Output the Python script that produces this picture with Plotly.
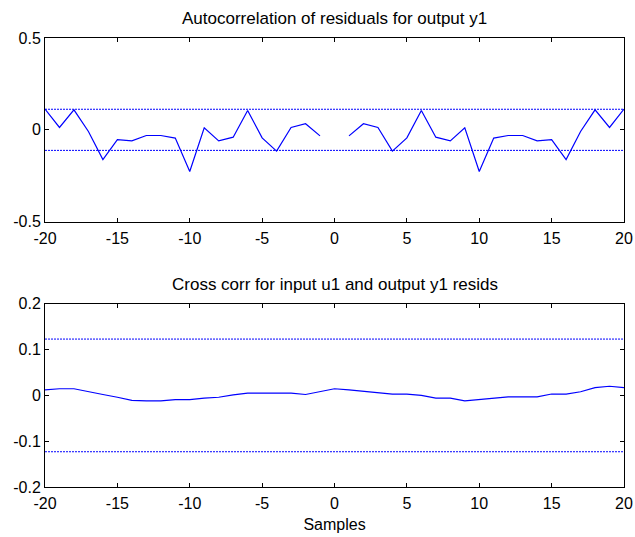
import plotly.graph_objects as go

lags = list(range(-20, 21))

# Autocorrelation of residuals (lag 0 omitted)
acf_neg = [0.113, 0.013, 0.109, -0.009, -0.162, -0.053, -0.060, -0.031, -0.031, -0.045,
           -0.227, 0.011, -0.060, -0.040, 0.105, -0.044, -0.116, 0.013, 0.033, -0.033]
acf = acf_neg + [None] + acf_neg[::-1]
acf_conf = 0.112

# Cross correlation input u1 / output y1 residuals
xcorr = [0.012, 0.0145, 0.0145, 0.009, 0.002, -0.004, -0.011, -0.012, -0.012, -0.009,
         -0.009, -0.006, -0.004, 0.001, 0.005, 0.005, 0.005, 0.005, 0.002, 0.009,
         0.0145,
         0.012, 0.009, 0.0065, 0.003, 0.003, 0.0, -0.006, -0.006, -0.012, -0.009,
         -0.006, -0.003, -0.003, -0.003, 0.003, 0.003, 0.008, 0.017, 0.020, 0.017]
xcorr_conf = 0.123

x_ticks = [-20, -15, -10, -5, 0, 5, 10, 15, 20]
x_ticktext = ["-20", "-15", "-10", "-5", "0", "5", "10", "15", "20"]
y1_ticks = [-0.5, 0, 0.5]
y1_ticktext = ["-0.5", "0", "0.5"]
y2_ticks = [-0.2, -0.1, 0, 0.1, 0.2]
y2_ticktext = ["-0.2", "-0.1", "0", "0.1", "0.2"]

title1 = "Autocorrelation of residuals for output y1"
title2 = "Cross corr for input u1 and output y1 resids"
xlabel = "Samples"

BLUE = "#0000FF"
FAM = "Liberation Sans, Arial, sans-serif"
TICKFONT = dict(family=FAM, size=16, color="black")
TITLEFONT = dict(family=FAM, size=17, color="black")
CONF_LINE = dict(color=BLUE, width=1, dash="2px,1px")

fig = go.Figure()

fig.add_trace(go.Scatter(x=lags, y=acf, mode="lines", line=dict(color=BLUE, width=1.2),
                         connectgaps=False, xaxis="x", yaxis="y"))
fig.add_trace(go.Scatter(x=[lags[0], lags[-1]], y=[acf_conf, acf_conf], mode="lines",
                         line=CONF_LINE, xaxis="x", yaxis="y"))
fig.add_trace(go.Scatter(x=[lags[0], lags[-1]], y=[-acf_conf, -acf_conf], mode="lines",
                         line=CONF_LINE, xaxis="x", yaxis="y"))

fig.add_trace(go.Scatter(x=lags, y=xcorr, mode="lines", line=dict(color=BLUE, width=1.2),
                         xaxis="x2", yaxis="y2"))
fig.add_trace(go.Scatter(x=[lags[0], lags[-1]], y=[xcorr_conf, xcorr_conf], mode="lines",
                         line=CONF_LINE, xaxis="x2", yaxis="y2"))
fig.add_trace(go.Scatter(x=[lags[0], lags[-1]], y=[-xcorr_conf, -xcorr_conf], mode="lines",
                         line=CONF_LINE, xaxis="x2", yaxis="y2"))

axis_common = dict(showline=True, linecolor="black", linewidth=1, mirror="ticks",
                   ticks="inside", ticklen=4, tickcolor="black", tickwidth=1,
                   showgrid=False, zeroline=False, tickfont=TICKFONT, automargin=False)

top_dom = [0.591, 1.0]
bot_dom = [0.0, 0.408]

fig.update_layout(
    width=635, height=537,
    margin=dict(l=45, r=11, t=38, b=50, autoexpand=False),
    paper_bgcolor="white", plot_bgcolor="white",
    showlegend=False,
    hovermode=False,
    font=TICKFONT,
    xaxis=dict(domain=[0, 1], anchor="y", range=[-20, 20], tickvals=x_ticks,
               ticktext=x_ticktext, ticklabelstandoff=2, **axis_common),
    yaxis=dict(domain=top_dom, anchor="x", range=[-0.5, 0.5], tickvals=y1_ticks,
               ticktext=y1_ticktext, ticklabelstandoff=0, **axis_common),
    xaxis2=dict(domain=[0, 1], anchor="y2", range=[-20, 20], tickvals=x_ticks,
                ticktext=x_ticktext, ticklabelstandoff=2,
                title=dict(text=xlabel, font=TICKFONT, standoff=7), **axis_common),
    yaxis2=dict(domain=bot_dom, anchor="x2", range=[-0.2, 0.2], tickvals=y2_ticks,
                ticktext=y2_ticktext, ticklabelstandoff=0, **axis_common),
    annotations=[
        dict(text=title1, x=0.5, y=top_dom[1], xref="paper", yref="paper",
             xanchor="center", yanchor="bottom", yshift=8, showarrow=False, font=TITLEFONT),
        dict(text=title2, x=0.5, y=bot_dom[1], xref="paper", yref="paper",
             xanchor="center", yanchor="bottom", yshift=8, showarrow=False, font=TITLEFONT),
    ],
)

# remove the browser's default body margin so the figure sits at the page origin
fig.write_html(
    "out.html",
    config={"displayModeBar": False},
    post_script="document.body.style.margin='0';document.body.style.overflow='hidden';",
)
